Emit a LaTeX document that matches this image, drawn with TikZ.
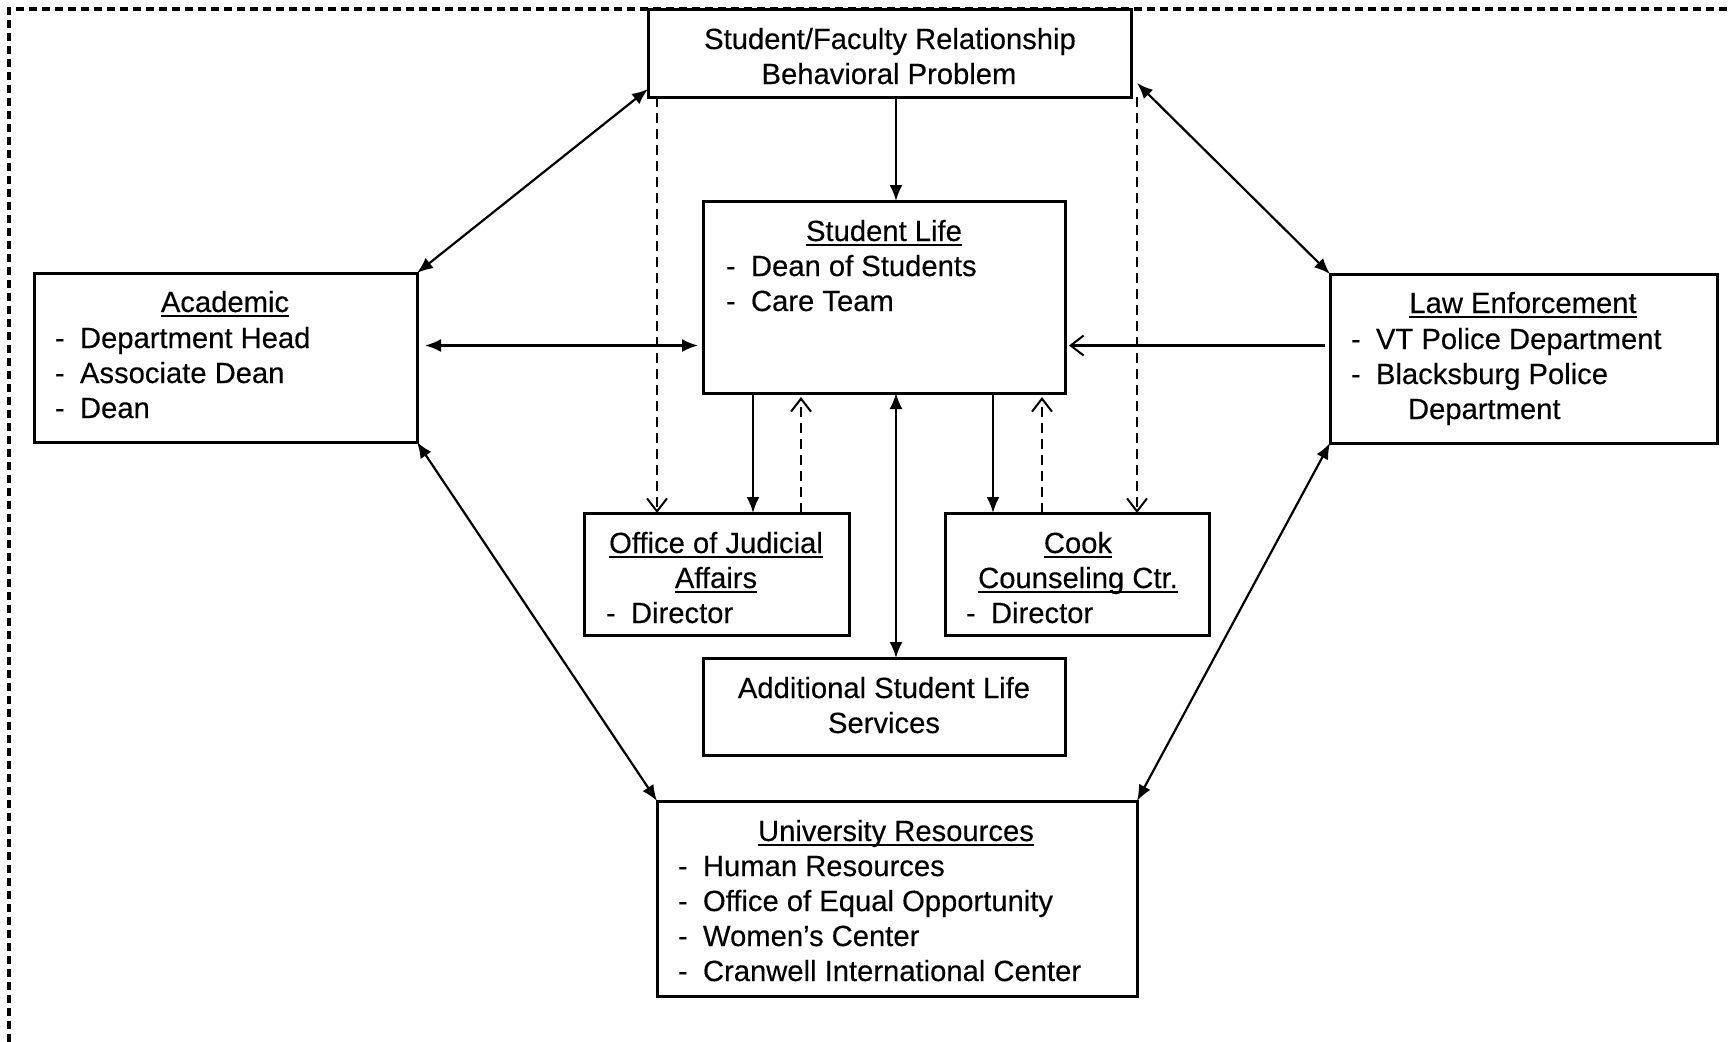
\documentclass[tikz,border=0pt]{standalone}
\usepackage{fontspec}
\setmainfont{Liberation Sans}[FakeBold=0.3]
\usetikzlibrary{arrows.meta,calc}
\newcommand\ulx[1]{\setbox0\hbox{#1}\rlap{\rule[-2.4pt]{\wd0}{1pt}}\box0}
\newcommand\itm[1]{\llap{\makebox[12.5pt][l]{-}}#1}
\begin{document}
\begin{tikzpicture}[x=0.5pt,y=-0.5pt,
  box/.style={draw, line width=1.5pt, inner sep=0pt, outer sep=0pt, anchor=north west},
  txt/.style={inner sep=0pt, outer sep=0pt, font=\fontsize{14.6}{17.6}\selectfont},
  ctr/.style={txt, anchor=base},
  lft/.style={txt, anchor=base west},
  conn/.style={line width=1.1pt},
  solidtip/.tip={Latex[length=8pt,width=6.5pt]},
  opentip/.tip={Straight Barb[length=6.5pt,width=10pt,line width=1pt]},
  both/.style={conn, solidtip-solidtip},
  one/.style={conn, -solidtip},
  openone/.style={conn, -opentip},
  dsh/.style={line width=1.4pt, dash pattern=on 5pt off 3pt, -opentip},
  frame/.style={line width=1.6pt, dash pattern=on 4pt off 2.5pt}
]
\useasboundingbox (0,0) rectangle (1731,1041);
\draw[frame] (9,1042) -- (9,9) -- (1760,9);

% boxes
\node[box, minimum width=241.5pt, minimum height=44pt] (top) at (648,9) {};
\node[box, minimum width=181pt, minimum height=96pt] (sl) at (703,201) {};
\node[box, minimum width=191.5pt, minimum height=84.5pt] (acad) at (34,273) {};
\node[box, minimum width=193.5pt, minimum height=84.5pt] (law) at (1330,274) {};
\node[box, minimum width=132.5pt, minimum height=61pt] (jud) at (584,513) {};
\node[box, minimum width=132pt, minimum height=61pt] (cook) at (945,513) {};
\node[box, minimum width=181pt, minimum height=48.5pt] (add) at (703,658) {};
\node[box, minimum width=240pt, minimum height=97.5pt] (univ) at (657,801) {};

% texts
\node[ctr] (t1) at (890,49) {Student/Faculty Relationship};
\node[ctr] (t2) at (889,84) {Behavioral Problem};

\node[ctr] (s0) at (884,241) {\ulx{Student Life}};
\node[lft] (s1) at (751,276) {\itm{Dean of Students}};
\node[lft] (s2) at (751,311) {\itm{Care Team}};

\node[ctr] (a0) at (225,312) {\ulx{Academic}};
\node[lft] (a1) at (80,348) {\itm{Department Head}};
\node[lft] (a2) at (80,383) {\itm{Associate Dean}};
\node[lft] (a3) at (80,418) {\itm{Dean}};

\node[ctr] (l0) at (1523,313) {\ulx{Law Enforcement}};
\node[lft] (l1) at (1376,349) {\itm{VT Police Department}};
\node[lft] (l2) at (1376,384) {\itm{Blacksburg Police}};
\node[lft] (l3) at (1408,419) {Department};

\node[ctr] (j0) at (716,553) {\ulx{Office of Judicial}};
\node[ctr] (j1) at (716,588) {\ulx{Affairs}};
\node[lft] (j2) at (631,623) {\itm{Director}};

\node[ctr] (c0) at (1078,553) {\ulx{Cook}};
\node[ctr] (c1) at (1078,588) {\ulx{Counseling Ctr.}};
\node[lft] (c2) at (991,623) {\itm{Director}};

\node[ctr] (d0) at (884,698) {Additional Student Life};
\node[ctr] (d1) at (884,733) {Services};

\node[ctr] (u0) at (896,841) {\ulx{University Resources}};
\node[lft] (u1) at (703,876) {\itm{Human Resources}};
\node[lft] (u2) at (703,911) {\itm{Office of Equal Opportunity}};
\node[lft] (u3) at (703,946) {\itm{Women's Center}};
\node[lft] (u4) at (703,981) {\itm{Cranwell International Center}};

% connectors
\draw[both] ($(top.south west)+(0,-8)$) -- (acad.north east);
\draw[both] ($(top.south east)+(6,-14)$) -- (law.north west);
\draw[one] ($(top.south west)+(248,0)$) -- ($(sl.north west)+(193,0)$);
\draw[both] ($(acad.north east)+(8,72.5)$) -- ($(sl.north west)+(-5,144.5)$);
\draw[openone] ($(law.north west)+(-5,71.5)$) -- ($(sl.north east)+(4,144.5)$);
\draw[dsh] ($(top.south west)+(9,0)$) -- ($(jud.north west)+(73,0)$);
\draw[dsh] ($(top.south east)+(6,0)$) -- ($(cook.north west)+(192,0)$);
\draw[one] ($(sl.south west)+(50,0)$) -- ($(jud.north west)+(169,0)$);
\draw[dsh] ($(jud.north west)+(217,0)$) -- ($(sl.south west)+(98,4)$);
\draw[one] ($(sl.south west)+(290,0)$) -- ($(cook.north west)+(48,0)$);
\draw[dsh] ($(cook.north west)+(97,0)$) -- ($(sl.south west)+(339,4)$);
\draw[both] ($(sl.south west)+(193,0)$) -- ($(add.north west)+(193,0)$);
\draw[both] (acad.south east) -- (univ.north west);
\draw[both] (law.south west) -- (univ.north east);
\end{tikzpicture}
\end{document}
